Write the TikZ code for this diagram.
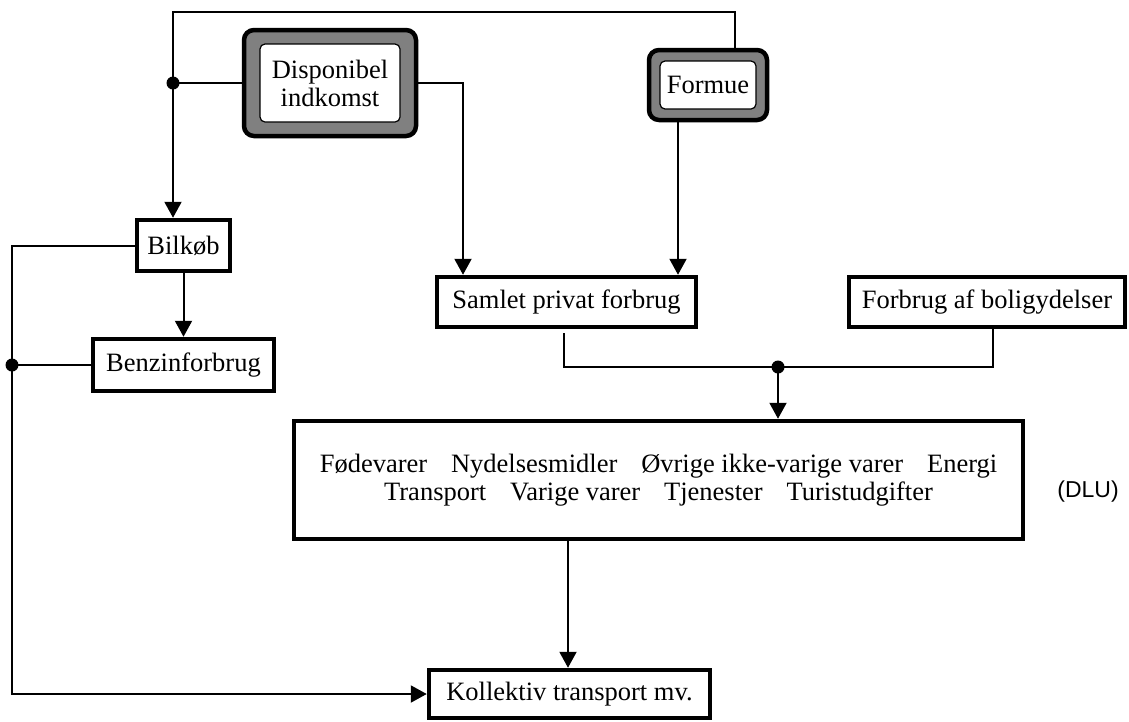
\documentclass[tikz,border=0pt]{standalone}
\usepackage{fontspec}
\setmainfont{Liberation Serif}
\newfontfamily\dlufont{Liberation Sans}
\usetikzlibrary{arrows.meta,calc}
\begin{document}
\begin{tikzpicture}[x=1pt,y=-1pt,
  conn/.style={line width=2pt},
  arr/.style={line width=2pt,-{Triangle[length=16pt,width=17pt]}},
  txt/.style={font=\fontsize{26.5}{28}\selectfont},
  box/.style={txt,draw,line width=4.5pt,inner sep=0pt,align=center},
  frameout/.style={draw,line width=4.5pt,fill=black!50,rounded corners=10pt,inner sep=0pt},
  framein/.style={txt,draw,line width=1.2pt,fill=white,rounded corners=5pt,inner sep=0pt,align=center},
  dot/.style={circle,fill,inner sep=0pt,minimum size=13pt}]
\useasboundingbox (0,0) rectangle (1129,721);

% framed input boxes
\node[frameout,minimum width=172pt,minimum height=106pt] (do) at (330,83) {};
\node[framein,minimum width=140pt,minimum height=78pt] (di) at (330,83) {Disponibel\\indkomst};
\node[frameout,minimum width=118pt,minimum height=70pt] (fo) at (708,85) {};
\node[framein,minimum width=96pt,minimum height=48pt] (fi) at (708,85) {Formue};

% boxes
\node[box,minimum width=93pt,minimum height=51pt] (bk) at (183.5,245.5) {Bilkøb};
\node[box,minimum width=181pt,minimum height=52pt] (bz) at (183.5,365) {Benzinforbrug};
\node[box,minimum width=259pt,minimum height=50pt] (sa) at (566.5,302) {Samlet privat forbrug};
\node[box,minimum width=276pt,minimum height=50pt] (bo) at (987,302) {Forbrug af boligydelser};
\node[box,minimum width=729pt,minimum height=118pt] (dl) at (658.5,480)
  {Fødevarer\hspace{0.9em}Nydelsesmidler\hspace{0.9em}Øvrige ikke-varige varer\hspace{0.9em}Energi\\
   Transport\hspace{0.9em}Varige varer\hspace{0.9em}Tjenester\hspace{0.9em}Turistudgifter};
\node[box,minimum width=281pt,minimum height=48pt] (ko) at (569.5,694) {Kollektiv transport mv.};
\node[font=\dlufont\fontsize{23}{26}\selectfont] (lab) at (1088,492) {(DLU)};

% helper coordinates
\coordinate (t1) at (735,12);
\coordinate (j1) at (173,83);
\coordinate (a1) at (463,83);
\coordinate (a2) at (678,0);
\coordinate (l1) at (12,0);
\coordinate (s1) at (564,333);
\coordinate (j3) at (778,367);
\coordinate (b1) at (993,0);
\coordinate (k1) at (568,0);

% top loop: Formue and Disponibel indkomst to Bilkob
\draw[conn] (fo.north -| t1) -- (t1) -| (j1);
\draw[conn] (do.west) -- (j1);
\draw[arr] (j1) -- (j1 |- bk.north);
\node[dot] (d1) at (j1) {};

% to Samlet privat forbrug
\draw[arr] (do.east) -- (a1) -- (a1 |- sa.north);
\draw[arr] (fo.south -| a2) -- (sa.north -| a2);

% Bilkob to Benzinforbrug
\draw[arr] (bk.south) -- (bz.north);

% left feedback to Kollektiv transport
\draw[arr] (bk.west) -- (bk.west -| l1) |- (ko.west);
\draw[conn] (bz.west) -- (bz.west -| l1);
\node[dot] (d2) at (bz.west -| l1) {};

% Samlet + boligydelser to DLU
\draw[conn] (s1) |- (j3) -| (bo.south -| b1);
\node[dot] (d3) at (j3) {};
\draw[arr] (j3) -- (j3 |- dl.north);

% DLU to Kollektiv transport
\draw[arr] (dl.south -| k1) -- (ko.north -| k1);
\end{tikzpicture}
\end{document}
